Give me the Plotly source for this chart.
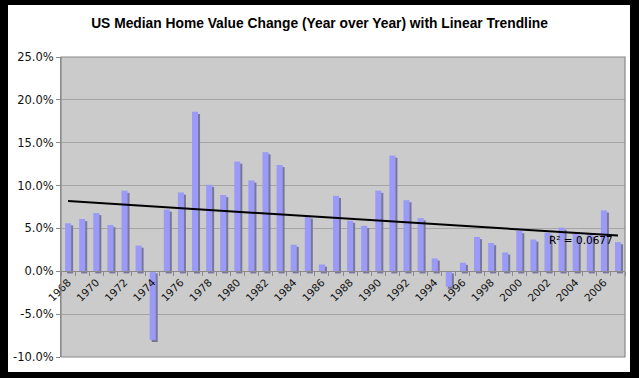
import numpy as np
import plotly.graph_objects as go

years = ["1968", "1969", "1970", "1971", "1972", "1973", "1974", "1975", "1976", "1977",
         "1978", "1979", "1980", "1981", "1982", "1983", "1984", "1985", "1986", "1987",
         "1988", "1989", "1990", "1991", "1992", "1993", "1994", "1995", "1996", "1997",
         "1998", "1999", "2000", "2001", "2002", "2003", "2004", "2005", "2006", "2007"]
change_pct = [5.6, 6.1, 6.8, 5.4, 9.4, 3.0, -8.0, 7.2, 9.2, 18.6,
              10.1, 8.9, 12.8, 10.6, 13.9, 12.4, 3.1, 6.4, 0.8, 8.8,
              5.9, 5.3, 9.4, 13.5, 8.3, 6.2, 1.5, -1.8, 1.0, 4.0,
              3.3, 2.2, 4.7, 3.7, 4.5, 5.1, 4.4, 4.3, 7.1, 3.4]
tick_labels = [y if int(y) % 2 == 0 else "" for y in years]
y_ticks = [-10, -5, 0, 5, 10, 15, 20, 25]
r2_label = "R² = 0.0677"

# linear trendline fitted on the data
idx = np.arange(len(change_pct))
slope, intercept = np.polyfit(idx, change_pct, 1)
trend = slope * idx + intercept

W, H = 639, 378
L, R, T, B = 61, 14, 57, 21
pw, ph = W - L - R, H - T - B

def px_x(p):
    return (p - L) / pw

def px_y(p):
    return (H - B - p) / ph

fig = go.Figure()
fig.add_trace(go.Bar(x=years, y=change_pct, base=-0.25, offset=-0.07, width=0.43,
                     marker=dict(color="#77779a", line=dict(width=0)), showlegend=False))
fig.add_trace(go.Bar(x=years, y=change_pct, offset=-0.21, width=0.43,
                     marker=dict(color="#9b9bf7", line=dict(width=0)), showlegend=False))
fig.add_trace(go.Scatter(x=years, y=trend, mode="lines",
                         line=dict(color="black", width=2), showlegend=False))

fig.add_annotation(x=36.4, y=3.7, text=r2_label, showarrow=False,
                   xanchor="center", yanchor="middle",
                   font=dict(family="DejaVu Sans", size=10.5, color="black"))

shapes = [
    dict(type="rect", xref="paper", yref="paper", x0=px_x(8), x1=px_x(630),
         y0=px_y(372), y1=px_y(5), fillcolor="white", line=dict(width=0), layer="below"),
    dict(type="rect", xref="paper", yref="paper", x0=0, x1=1, y0=0, y1=1,
         fillcolor="#cbcbcb", line=dict(width=0), layer="below"),
    dict(type="rect", xref="paper", yref="paper", x0=0, x1=1, y0=0, y1=1,
         fillcolor="rgba(0,0,0,0)", line=dict(color="#8a8a8a", width=1.2), layer="above"),
]

fig.update_layout(
    width=W, height=H,
    margin=dict(l=L, r=R, t=T, b=B, pad=0),
    paper_bgcolor="black",
    plot_bgcolor="#cbcbcb",
    barmode="overlay",
    shapes=shapes,
    title=dict(text="US Median Home Value Change (Year over Year) with Linear Trendline",
               x=0.5, xref="container", xanchor="center", y=1 - 23 / H, yref="container",
               yanchor="middle",
               font=dict(family="Liberation Sans", size=13.8, color="black", weight="bold")),
    xaxis=dict(type="category", range=[-0.5, len(years) - 0.5],
               anchor="free", position=10 / 35,
               tickmode="array", tickvals=years, ticktext=tick_labels,
               tickangle=-45, tickson="boundaries",
               ticks="outside", ticklen=4, tickcolor="#8a8a8a",
               showline=True, linecolor="#8a8a8a", linewidth=1,
               showgrid=False, zeroline=False,
               tickfont=dict(family="DejaVu Sans", size=10.5, color="#111")),
    yaxis=dict(range=[-10, 25], tickmode="array", tickvals=y_ticks,
               ticktext=[f"{v:.1f}%" for v in y_ticks],
               ticks="outside", ticklen=4, tickcolor="#8a8a8a",
               showgrid=True, gridcolor="#a5a5a5", gridwidth=1,
               zeroline=False, showline=True, linecolor="#8a8a8a",
               tickfont=dict(family="DejaVu Sans", size=11.5, color="#111")),
)

fig.write_html("out.html", config={"displayModeBar": False},
               post_script="document.body.style.margin='0';document.body.style.background='black';")
